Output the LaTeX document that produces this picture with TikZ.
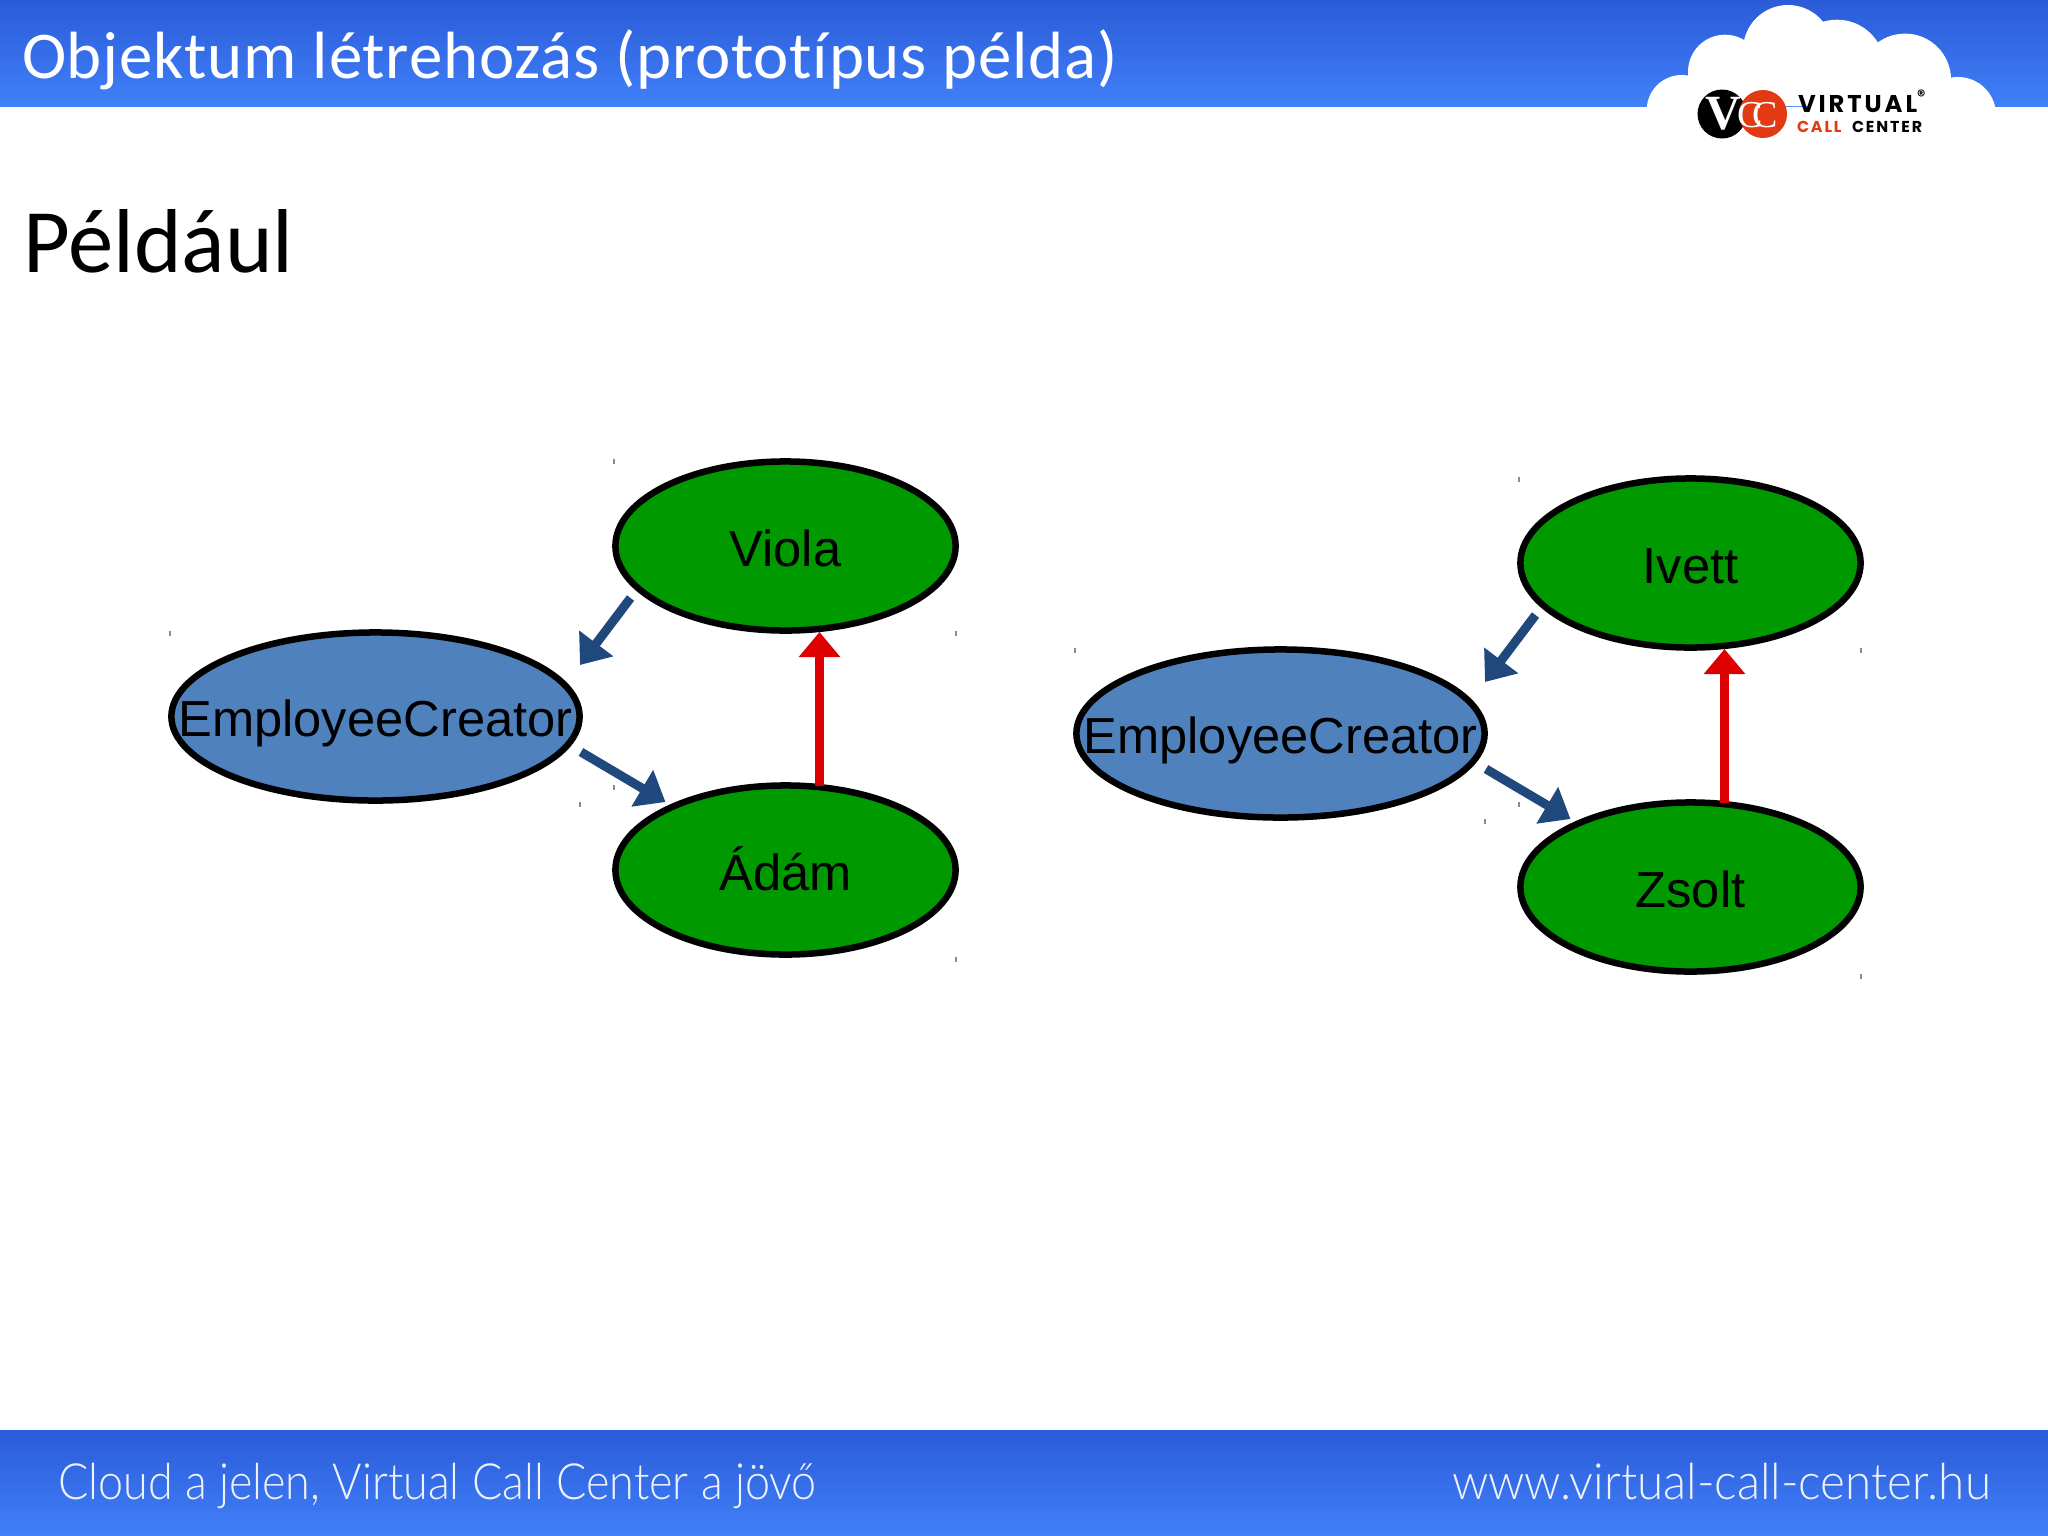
\documentclass[tikz,border=0pt]{standalone}
\usepackage{fontspec}
\usetikzlibrary{arrows.meta,shapes.geometric,calc}
\setmainfont{Carlito}
\newfontfamily\titlef[LetterSpace=1.2,Ligatures=NoCommon]{Carlito}
\newfontfamily\arialf{Liberation Sans}
\newfontfamily\thinf[FakeStretch=0.9]{Lato Light}
\newfontfamily\thing[FakeStretch=0.953]{Lato Light}
\newfontfamily\logof{Poppins}
\newfontfamily\vccf{Liberation Serif}
\definecolor{bartop}{HTML}{2B5BD8}
\definecolor{barbot}{HTML}{4080F8}
\definecolor{nodegreen}{HTML}{009A00}
\definecolor{nodeblue}{HTML}{4F81BD}
\definecolor{arrowblue}{HTML}{1F497D}
\definecolor{arrowred}{HTML}{DC0000}
\definecolor{logored}{HTML}{E23A12}
\newcommand\lbl[1]{\makebox[0pt][c]{#1}}
\tikzset{
  person/.style={ellipse,draw=black,line width=0.065cm,fill=nodegreen,minimum width=3.40cm,minimum height=1.69cm,inner sep=0pt,outer sep=0pt,text height=0.40cm,text depth=0pt,font=\arialf\fontsize{14.4}{16}\selectfont},
  creator/.style={person,fill=nodeblue,minimum width=4.08cm,minimum height=1.68cm},
  bluearrow/.style={draw=arrowblue,line width=0.09cm,-{Triangle[length=0.27cm,width=0.41cm,fill=arrowblue]}},
  redarrow/.style={draw=arrowred,line width=0.085cm,-{Triangle[length=0.25cm,width=0.40cm,fill=arrowred]}},
  tick/.style={draw=black!45,line width=0.012cm},
  plain/.style={inner sep=0pt,outer sep=0pt,anchor=base west},
}
\begin{document}
\begin{tikzpicture}[x=0.01cm,y=-0.01cm]
\useasboundingbox (0,0) rectangle (2048,1536);
\fill[white] (0,0) rectangle (2048,1536);
\shade[top color=bartop,bottom color=barbot] (0,0) rectangle (2048,106);
\shade[top color=bartop,bottom color=barbot] (0,1430) rectangle (2048,1536);
% cloud
\fill[white] (1681.7,110) circle (35) (1725,71.7) circle (37) (1788,50) circle (45) (1837,67.7) circle (48) (1905,79.6) circle (46) (1958,115) circle (38);
\fill[white] (1690,106) -- (1725,60) -- (1785,35) -- (1847,45) -- (1912,60) -- (1960,106) -- cycle;
% logo
\fill[black] (1722,114) circle (24.5);
\fill[logored] (1763,114) circle (24);
\node[plain,text=white] (vl) at (1705,129) {\vccf\bfseries\fontsize{14}{16}\selectfont V};
\node[plain,text=white] (cl) at (1737,127) {\vccf\fontsize{10.8}{12}\selectfont C\hspace{-2.9pt}C};
\node[plain] (virt) at (1798,112) {\logof\bfseries\fontsize{6.9}{8}\selectfont\addfontfeatures{LetterSpace=12}VIRTUAL\raisebox{0.8ex}{\fontsize{4.6}{4}\selectfont ®}};
\node[plain] (call) at (1797,132) {\logof\bfseries\fontsize{4.5}{6}\selectfont\addfontfeatures{LetterSpace=12}\textcolor{logored}{CALL}};
\node[plain] (cent) at (1852,132) {\logof\bfseries\fontsize{4.5}{6}\selectfont\addfontfeatures{LetterSpace=12}CENTER};
% titles
\node[plain,text=white] (title) at (22,78) {\titlef\fontsize{19}{22}\selectfont Objektum létrehozás (prototípus példa)};
\node[plain,text=black] (sub) at (23,272) {\fontsize{25.8}{28}\selectfont Például};
\node[plain,text=white!92!bartop] (foot1) at (58,1499) {\thinf\fontsize{14.2}{16}\selectfont Cloud a jelen, Virtual Call Center a jövő};
\node[plain,text=white!92!bartop] (foot2) at (1452,1499) {\thing\fontsize{14.2}{16}\selectfont www.virtual-call-center.hu};
% left group
\node[person] (viola) at (785.5,546) {\lbl{Viola}};
\node[creator] (ec1) at (375.5,716.5) {\lbl{EmployeeCreator}};
\node[person] (adam) at (785.5,870) {\lbl{Ádám}};
\draw[bluearrow] ($(viola.center)+(-155,52)$) -- ($(ec1.center)+(204.5,-51.5)$);
\draw[bluearrow] ($(ec1.center)+(205.5,35.5)$) -- ($(adam.center)+(-120,-68)$);
\draw[redarrow] ($(adam.center)+(34,-84)$) -- ($(viola.center)+(34,86)$);
% right group
\node[person] (ivett) at (1690.5,563) {\lbl{Ivett}};
\node[creator] (ec2) at (1280.5,733.5) {\lbl{EmployeeCreator}};
\node[person] (zsolt) at (1690.5,887) {\lbl{Zsolt}};
\draw[bluearrow] ($(ivett.center)+(-155,52)$) -- ($(ec2.center)+(204.5,-51.5)$);
\draw[bluearrow] ($(ec2.center)+(205.5,35.5)$) -- ($(zsolt.center)+(-120,-68)$);
\draw[redarrow] ($(zsolt.center)+(34,-84)$) -- ($(ivett.center)+(34,86)$);
% selection ticks
\foreach \tx/\ty in {614/459,956/631,170/631,580/802,956/957,614/785,1519/477,1861/648,1075/648,1485/819,1861/974,1519/802}
  \draw[tick] (\tx,\ty) -- (\tx,\ty+5);
\end{tikzpicture}
\end{document}
